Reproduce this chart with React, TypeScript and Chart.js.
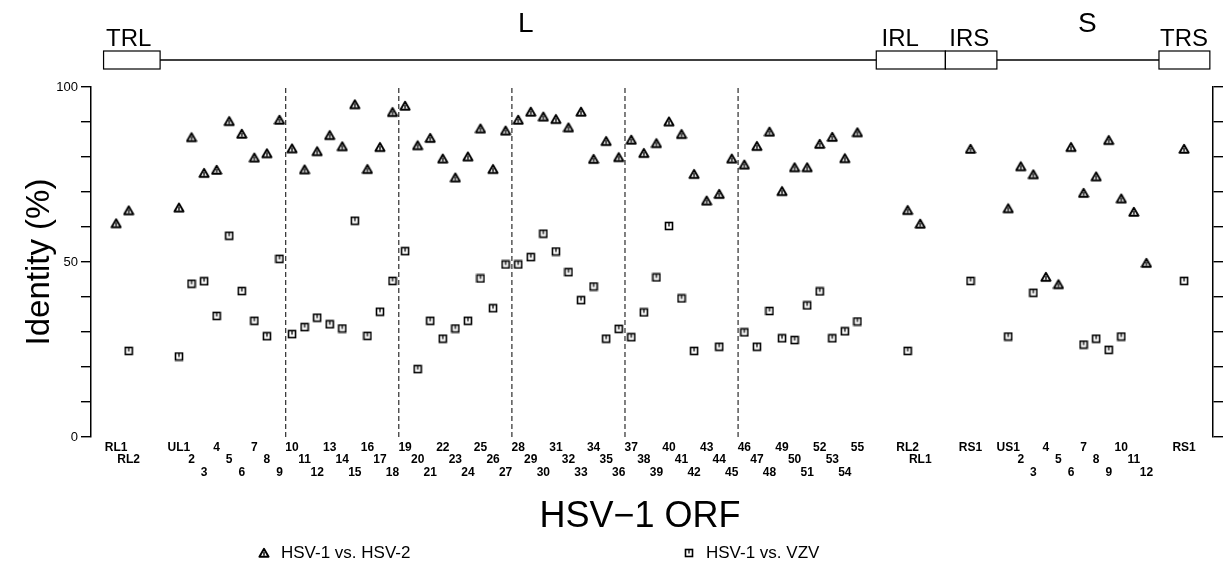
import React, { useEffect, useRef } from 'react';
import { Chart, registerables } from 'chart.js';

Chart.register(...registerables);

// ---- ORF names (tick labels) per genome region ----
const trlOrfs = ['RL1', 'RL2'];
const ulOrfs = ['UL1', '2', '3', '4', '5', '6', '7', '8', '9', '10', '11', '12', '13', '14', '15', '16', '17', '18', '19', '20',
  '21', '22', '23', '24', '25', '26', '27', '28', '29', '30', '31', '32', '33', '34', '35', '36', '37', '38', '39', '40',
  '41', '42', '43', '44', '45', '46', '47', '48', '49', '50', '51', '52', '53', '54', '55'];
const irlOrfs = ['RL2', 'RL1'];
const irsOrfs = ['RS1'];
const usOrfs = ['US1', '2', '3', '4', '5', '6', '7', '8', '9', '10', '11', '12'];
const trsOrfs = ['RS1'];

// ---- HSV-1 vs. HSV-2 identity (%) ----
const hsv2Trl = [61.0, 64.7];
const hsv2Ul = [65.5, 85.6, 75.4, 76.3, 90.2, 86.6, 79.8, 81.0, 90.6, 82.4,
  76.4, 81.6, 86.2, 83.0, 95.0, 76.5, 82.8, 92.8, 94.6, 83.3,
  85.4, 79.5, 74.1, 80.1, 88.1, 76.5, 87.5, 90.6, 92.9, 91.5,
  90.8, 88.4, 92.9, 79.4, 84.5, 79.9, 84.9, 81.1, 83.9, 90.1,
  86.5, 75.1, 67.5, 69.4, 79.5, 77.8, 83.1, 87.2, 70.2, 77.0,
  77.0, 83.7, 85.7, 79.6, 87.0];
const hsv2Irl = [64.8, 60.9];
const hsv2Irs = [82.3];
const hsv2Us = [65.3, 77.3, 75.0, 45.7, 43.6, 82.8, 69.7, 74.4, 84.8, 68.1, 64.3, 49.7];
const hsv2Trs = [82.3];

// ---- HSV-1 vs. VZV identity (%), null = no homolog ----
const vzvTrl = [null, 24.6];
const vzvUl = [23.0, 43.8, 44.5, 34.6, 57.5, 41.7, 33.2, 28.8, 50.9, 29.4,
  31.4, 34.1, 32.2, 31.0, 61.8, 28.9, 35.8, 44.6, 53.1, 19.4,
  33.2, 28.1, 31.0, 33.2, 45.3, 36.8, 49.3, 49.3, 51.4, 58.1,
  53.0, 47.1, 39.1, 43.0, 28.1, 30.9, 28.5, 35.6, 45.6, 60.3,
  39.6, 24.6, null, 25.8, null, 29.9, 25.8, 36.0, 28.2, 27.7,
  37.6, 41.6, 28.2, 30.2, 33.0];
const vzvIrl = [24.6, null];
const vzvIrs = [44.6];
const vzvUs = [28.7, null, 41.2, null, null, null, 26.4, 28.1, 24.9, 28.7, null, null];
const vzvTrs = [44.6];

// ---- axis positions where each region starts ----
const trlStart = 0;
const ulStart = 5;
const irlStart = 63;
const irsStart = 68;
const usStart = 71;
const trsStart = 85;
const dividerPositions = [13.5, 22.5, 31.5, 40.5, 49.5];

// ---- genome map (in axis units) ----
const mapBoxes = [
  { text: 'TRL', from: -1, to: 3.5, labelAt: 1.0 },
  { text: 'IRL', from: 60.5, to: 66, labelAt: 62.4 },
  { text: 'IRS', from: 66, to: 70.1, labelAt: 67.9 },
  { text: 'TRS', from: 83, to: 87.05, labelAt: 85 },
];
const mapSegments = [
  { text: 'L', at: 32.6, from: 3.5, to: 60.5 },
  { text: 'S', at: 77.3, from: 70.1, to: 83 },
];

const legendLabels = ['HSV-1 vs. HSV-2', 'HSV-1 vs. VZV'];
const xTitle = 'HSV\u22121 ORF';
const yTitle = 'Identity (%)';

const FONT = '"Liberation Sans", Arial, Helvetica, sans-serif';

type Region = { start: number; names: string[]; hsv2: (number | null)[]; vzv: (number | null)[] };
const regions: Region[] = [
  { start: trlStart, names: trlOrfs, hsv2: hsv2Trl, vzv: vzvTrl },
  { start: ulStart, names: ulOrfs, hsv2: hsv2Ul, vzv: vzvUl },
  { start: irlStart, names: irlOrfs, hsv2: hsv2Irl, vzv: vzvIrl },
  { start: irsStart, names: irsOrfs, hsv2: hsv2Irs, vzv: vzvIrs },
  { start: usStart, names: usOrfs, hsv2: hsv2Us, vzv: vzvUs },
  { start: trsStart, names: trsOrfs, hsv2: hsv2Trs, vzv: vzvTrs },
];

function makeTriangle() {
  const c = document.createElement('canvas');
  c.width = 12; c.height = 12;
  const g = c.getContext('2d')!;
  g.strokeStyle = '#000';
  g.fillStyle = '#fff';
  g.lineWidth = 1.9;
  g.lineJoin = 'round';
  g.beginPath();
  g.moveTo(6, 1.8); g.lineTo(10.6, 9.8); g.lineTo(1.4, 9.8); g.closePath();
  g.fill(); g.stroke();
  g.lineWidth = 1.4;
  g.beginPath(); g.moveTo(6, 4.8); g.lineTo(6, 8.8); g.stroke();
  return c;
}

function makeSquare() {
  const c = document.createElement('canvas');
  c.width = 10; c.height = 10;
  const g = c.getContext('2d')!;
  g.strokeStyle = '#000';
  g.fillStyle = '#fff';
  g.lineWidth = 1.6;
  g.fillRect(1.5, 1.5, 7, 7);
  g.strokeRect(1.5, 1.5, 7, 7);
  g.lineWidth = 1.3;
  g.beginPath(); g.moveTo(5, 1.5); g.lineTo(5, 5.5); g.stroke();
  return c;
}

export default function App() {
  const ref = useRef<HTMLCanvasElement>(null);

  useEffect(() => {
    const tickInfo = new Map<number, string[]>();
    const hsv2Points: { x: number; y: number }[] = [];
    const vzvPoints: { x: number; y: number }[] = [];
    regions.forEach((r) => {
      r.names.forEach((name, i) => {
        const x = r.start + i;
        const row = i % 3;
        const lines: string[] = [];
        for (let k = 0; k < row; k++) lines.push('');
        lines.push(name);
        tickInfo.set(x, lines);
        const a = r.hsv2[i];
        const b = r.vzv[i];
        if (a != null) hsv2Points.push({ x, y: a });
        if (b != null) vzvPoints.push({ x, y: b });
      });
    });
    const tickValues = Array.from(tickInfo.keys());

    const tri = makeTriangle();
    const sq = makeSquare();

    const decorPlugin = {
      id: 'decor',
      afterDraw(chart: any) {
        const { ctx, chartArea } = chart;
        const xs = chart.scales.x;
        const px = (v: number) => xs.getPixelForValue(v);
        const lineY = chartArea.top - 27;
        const boxH = 18;
        ctx.save();
        ctx.strokeStyle = '#000';
        ctx.fillStyle = '#000';
        // genome backbone
        ctx.lineWidth = 1.5;
        mapSegments.forEach((s) => {
          ctx.beginPath();
          ctx.moveTo(px(s.from), lineY);
          ctx.lineTo(px(s.to), lineY);
          ctx.stroke();
        });
        ctx.lineWidth = 1.2;
        mapBoxes.forEach((b) => {
          const x0 = px(b.from);
          const x1 = px(b.to);
          ctx.strokeRect(x0, lineY - boxH / 2, x1 - x0, boxH);
        });
        ctx.textAlign = 'center';
        ctx.textBaseline = 'alphabetic';
        ctx.font = `24px ${FONT}`;
        mapBoxes.forEach((b) => {
          ctx.fillText(b.text, px(b.labelAt), lineY - 14);
        });
        ctx.font = `28px ${FONT}`;
        mapSegments.forEach((s) => {
          ctx.fillText(s.text, px(s.at), lineY - 28);
        });

        // x-axis title
        ctx.font = `36px ${FONT}`;
        ctx.fillText(xTitle, 640, 527);

        // legend
        ctx.font = `17px ${FONT}`;
        ctx.textAlign = 'left';
        ctx.textBaseline = 'middle';
        const legendY = 553;
        ctx.drawImage(tri, 264 - 6, legendY - 6);
        ctx.fillText(legendLabels[0], 281, legendY);
        ctx.drawImage(sq, 689 - 5, legendY - 5);
        ctx.fillText(legendLabels[1], 706, legendY);
        ctx.restore();
      },
    };

    const dividerSets = dividerPositions.map((d) => ({
      type: 'line' as const,
      data: [{ x: d, y: 0 }, { x: d, y: 100 }],
      borderColor: '#000',
      borderWidth: 1,
      borderDash: [5, 3],
      pointRadius: 0,
      fill: false,
      showLine: true,
    }));

    const chart = new Chart(ref.current!, {
      type: 'scatter',
      data: {
        datasets: [
          {
            label: legendLabels[0],
            data: hsv2Points,
            pointStyle: tri as any,
            pointRadius: 6,
            borderColor: '#000',
            backgroundColor: '#fff',
          },
          {
            label: legendLabels[1],
            data: vzvPoints,
            pointStyle: sq as any,
            pointRadius: 5,
            borderColor: '#000',
            backgroundColor: '#fff',
          },
          ...(dividerSets as any[]),
        ],
      },
      options: {
        animation: false,
        responsive: true,
        maintainAspectRatio: false,
        events: [],
        layout: { padding: { top: 87, left: 0, right: 0, bottom: 0 } },
        plugins: {
          legend: { display: false },
          tooltip: { enabled: false },
          title: { display: false },
        },
        scales: {
          x: {
            type: 'linear',
            position: 'bottom',
            min: -2,
            max: 87.3,
            grid: { display: false, drawTicks: false },
            border: { display: false },
            afterBuildTicks: (scale: any) => {
              scale.ticks = tickValues.map((v) => ({ value: v }));
            },
            afterFit: (scale: any) => {
              scale.height = 131;
            },
            ticks: {
              autoSkip: false,
              maxRotation: 0,
              minRotation: 0,
              padding: 4,
              color: '#000',
              font: { family: FONT, size: 12, weight: 'bold', lineHeight: 1.05 },
              callback: (value: any) => tickInfo.get(Number(value)) ?? '',
            },
          },
          y: {
            type: 'linear',
            position: 'left',
            min: 0,
            max: 100,
            afterFit: (scale: any) => {
              scale.width = 91;
            },
            grid: { drawOnChartArea: false, tickLength: 10, color: '#000', lineWidth: 1.4 },
            border: { display: true, color: '#000', width: 1.5 },
            ticks: {
              stepSize: 10,
              padding: 3,
              color: '#000',
              font: { family: FONT, size: 13 },
              callback: (v: any) => (Number(v) % 50 === 0 ? String(v) : ''),
            },
            title: {
              display: true,
              text: yTitle,
              color: '#000',
              font: { family: FONT, size: 33 },
              padding: { top: 20, bottom: 0 },
            },
          },
          y2: {
            type: 'linear',
            position: 'right',
            min: 0,
            max: 100,
            afterFit: (scale: any) => {
              scale.width = 15;
            },
            grid: { drawOnChartArea: false, tickLength: 10, color: '#000', lineWidth: 1.4 },
            border: { display: true, color: '#000', width: 1.5 },
            ticks: {
              stepSize: 10,
              padding: 0,
              callback: () => '',
            },
          },
        },
      },
      plugins: [decorPlugin],
    } as any);

    return () => chart.destroy();
  }, []);

  return (
    <div style={{ position: 'absolute', left: 0, top: 0, width: 1228, height: 568 }}>
      <canvas ref={ref} />
    </div>
  );
}
